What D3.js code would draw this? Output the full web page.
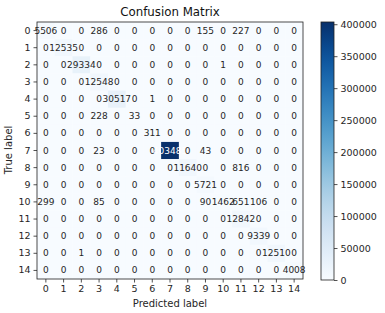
<!DOCTYPE html>
<html><head><meta charset="utf-8">
<script src="https://cdn.jsdelivr.net/npm/d3@7"></script>
<style>body{margin:0;background:#fff}svg{display:block;font-family:"DejaVu Sans",sans-serif}</style>
</head><body><svg id="c" width="385" height="313"></svg>
<script>
const labels = ["0","1","2","3","4","5","6","7","8","9","10","11","12","13","14"];
const matrix = [
  [5506,0,0,286,0,0,0,0,0,155,0,227,0,0,0],
  [0,12535,0,0,0,0,0,0,0,0,0,0,0,0,0],
  [0,0,29334,0,0,0,0,0,0,0,1,0,0,0,0],
  [0,0,0,12548,0,0,0,0,0,0,0,0,0,0,0],
  [0,0,0,0,30517,0,1,0,0,0,0,0,0,0,0],
  [0,0,0,228,0,33,0,0,0,0,0,0,0,0,0],
  [0,0,0,0,0,0,311,0,0,0,0,0,0,0,0],
  [0,0,0,23,0,0,0,403485,0,43,0,0,0,0,0],
  [0,0,0,0,0,0,0,0,11640,0,0,816,0,0,0],
  [0,0,0,0,0,0,0,0,0,5721,0,0,0,0,0],
  [299,0,0,85,0,0,0,0,0,90,1462,651,106,0,0],
  [0,0,0,0,0,0,0,0,0,0,0,12842,0,0,0],
  [0,0,0,0,0,0,0,0,0,0,0,0,9339,0,0],
  [0,0,1,0,0,0,0,0,0,0,0,0,0,12510,0],
  [0,0,0,0,0,0,0,0,0,0,0,0,0,0,4008]
];
const cbTicks = [0,50000,100000,150000,200000,250000,300000,350000,400000];

const svg = d3.select("#c");
const vmax = d3.max(matrix.flat());
const color = d3.scaleSequential(d3.interpolateBlues).domain([0, vmax]);
const x = d3.scaleBand().domain(labels).range([37, 303]);
const y = d3.scaleBand().domain(labels).range([22, 279]);

const cells = [];
matrix.forEach((row, i) => row.forEach((v, j) => cells.push({r: labels[i], c: labels[j], v})));

svg.append("g").selectAll("rect").data(cells).join("rect")
  .attr("x", d => x(d.c)).attr("y", d => y(d.r))
  .attr("width", x.bandwidth() + 0.3).attr("height", y.bandwidth() + 0.3)
  .attr("fill", d => color(d.v));

svg.append("g").selectAll("text").data(cells).join("text")
  .attr("x", d => x(d.c) + x.bandwidth() / 2)
  .attr("y", d => y(d.r) + y.bandwidth() / 2)
  .attr("text-anchor", "middle").attr("dominant-baseline", "central")
  .attr("font-size", 9)
  .attr("fill", d => d.v > vmax / 2 ? "#fff" : "#262626")
  .text(d => d.v);

// spines
svg.append("rect").attr("x", 37).attr("y", 22).attr("width", 266).attr("height", 257)
  .attr("fill", "none").attr("stroke", "#222").attr("stroke-width", 0.8);

const xa = svg.append("g").attr("transform", "translate(0,279)")
  .call(d3.axisBottom(x).tickSize(3.5).tickPadding(3));
const ya = svg.append("g").attr("transform", "translate(37,0)")
  .call(d3.axisLeft(y).tickSize(3.5).tickPadding(3));
[xa, ya].forEach(a => {
  a.select(".domain").remove();
  a.selectAll("text").attr("font-size", 9.5).attr("fill", "#262626").attr("font-family", "DejaVu Sans");
  a.selectAll("line").attr("stroke", "#262626").attr("stroke-width", 0.8);
});

svg.append("text").attr("x", 170).attr("y", 16).attr("text-anchor", "middle")
  .attr("font-size", 11.8).attr("fill", "#111").text("Confusion Matrix");
svg.append("text").attr("x", 170).attr("y", 307).attr("text-anchor", "middle")
  .attr("font-size", 10).attr("fill", "#262626").text("Predicted label");
svg.append("text").attr("transform", "translate(12,150) rotate(-90)").attr("text-anchor", "middle")
  .attr("font-size", 10).attr("fill", "#262626").text("True label");

// colorbar
const cbY = d3.scaleLinear().domain([0, vmax]).range([280, 22]);
const defs = svg.append("defs");
const grad = defs.append("linearGradient").attr("id", "g").attr("x1", 0).attr("y1", 1).attr("x2", 0).attr("y2", 0);
d3.range(0, 1.0001, 0.05).forEach(t => grad.append("stop").attr("offset", t).attr("stop-color", color(t * vmax)));
svg.append("rect").attr("x", 321).attr("y", 22).attr("width", 13).attr("height", 258)
  .attr("fill", "url(#g)").attr("stroke", "#222").attr("stroke-width", 0.8);
const ca = svg.append("g").attr("transform", "translate(334,0)")
  .call(d3.axisRight(cbY).tickValues(cbTicks).tickFormat(d3.format("d")).tickSize(3.5).tickPadding(3));
ca.select(".domain").remove();
ca.selectAll("text").attr("font-size", 9.5).attr("fill", "#262626").attr("font-family", "DejaVu Sans");
ca.selectAll("line").attr("stroke", "#262626").attr("stroke-width", 0.8);
</script></body></html>
